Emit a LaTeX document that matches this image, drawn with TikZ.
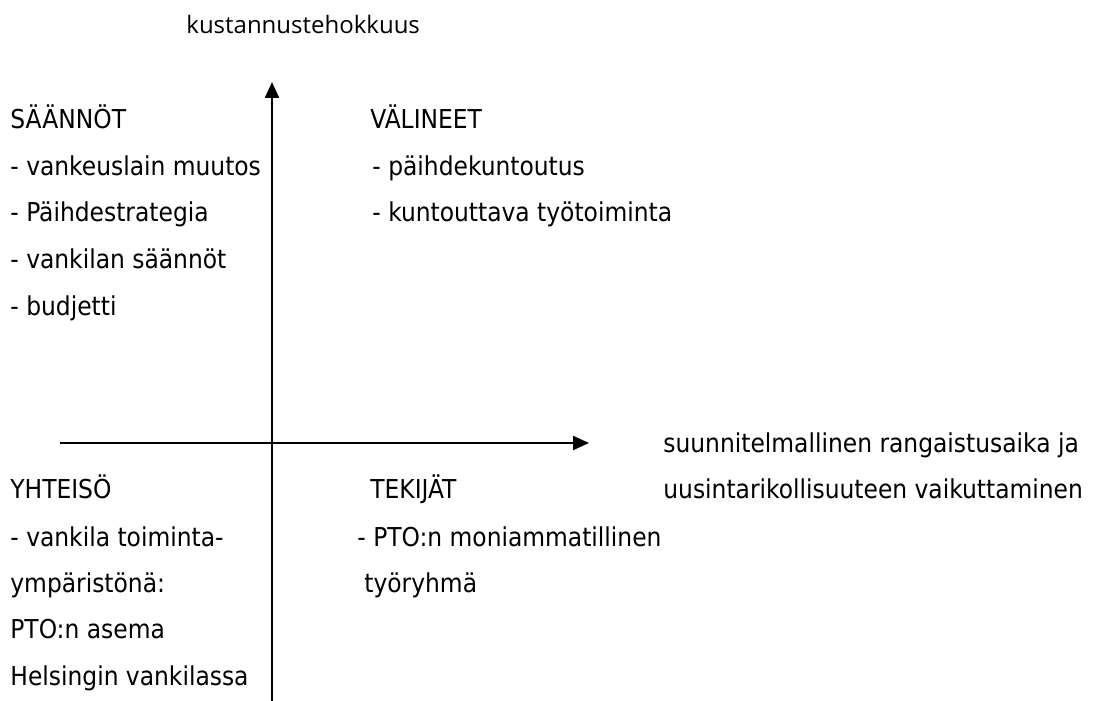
\documentclass[tikz,border=0pt]{standalone}
\usepackage{fontspec}
\setmainfont{DejaVu Sans Condensed}
\newfontfamily\lblfont{Open Sans}
\usetikzlibrary{arrows.meta}

\begin{document}
\begin{tikzpicture}[x=0.5pt,y=-0.5pt,
  txt/.style={anchor=base west, inner sep=0pt, font=\fontsize{13}{15}\selectfont},
  axis/.style={line width=1.1pt, -{Triangle[length=8pt,width=7pt]}}]
\useasboundingbox (0,0) rectangle (1100,701);

% Axes
 \coordinate (ybot) at (272,701);
 \coordinate (ytop) at (272,82);
 \coordinate (xleft) at (60,443);
 \coordinate (xright) at (589,443);
 \draw [axis] (ybot) -- (ytop);
 \draw [axis] (xleft) -- (xright);

% Axis labels
 \node [txt, font=\lblfont\fontsize{12}{15}\selectfont] (ylab) at (186,34) {kustannustehokkuus};
 \node [txt] (xlab1) at (663,452) {suunnitelmallinen rangaistusaika ja};
 \node [txt] (xlab2) at (663,499) {uusintarikollisuuteen vaikuttaminen};

% Saannot
 \node [txt] (s0) at (10,129) {SÄÄNNÖT};
 \node [txt] (s1) at (10,176) {- vankeuslain muutos};
 \node [txt] (s2) at (10,222) {- Päihdestrategia};
 \node [txt] (s3) at (10,269) {- vankilan säännöt};
 \node [txt] (s4) at (10,315) {- budjetti};

% Valineet
 \node [txt] (v0) at (370,129) {VÄLINEET};
 \node [txt] (v1) at (372,176) {- päihdekuntoutus};
 \node [txt] (v2) at (372,222) {- kuntouttava työtoiminta};

% Yhteiso
 \node [txt] (y0) at (10,499) {YHTEISÖ};
 \node [txt] (y1) at (10,546) {- vankila toiminta-};
 \node [txt] (y2) at (10,592) {ympäristönä:};
 \node [txt] (y3) at (10,639) {PTO:n asema};
 \node [txt] (y4) at (10,685) {Helsingin vankilassa};

% Tekijat
 \node [txt] (t0) at (370,499) {TEKIJÄT};
 \node [txt] (t1) at (357,546) {- PTO:n moniammatillinen};
 \node [txt] (t2) at (364,592) {työryhmä};

\end{tikzpicture}
\end{document}
